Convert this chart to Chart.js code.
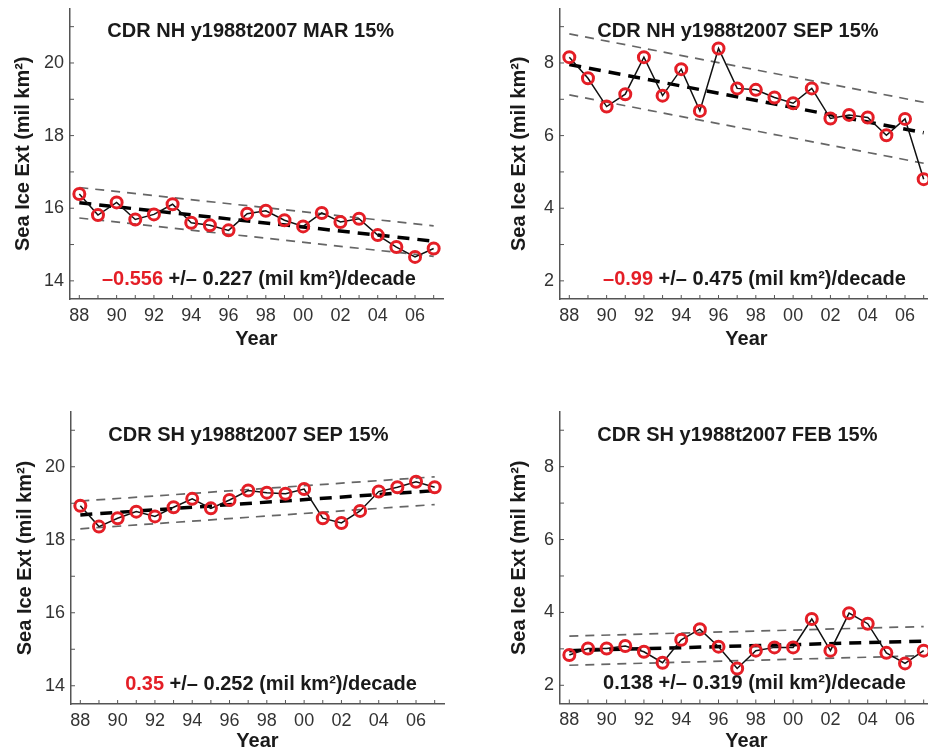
<!DOCTYPE html>
<html>
<head>
<meta charset="utf-8">
<title>Sea ice extent trends 1988-2007</title>
<script src="https://cdn.jsdelivr.net/npm/chart.js@4.4.1/dist/chart.umd.min.js"></script>
<style>
  html, body { margin: 0; padding: 0; background: #fff; overflow: hidden; }
  body { position: relative; width: 928px; height: 751px; }
  canvas { position: absolute; }
</style>
</head>
<body>
<canvas id="nhMar"></canvas>
<canvas id="nhSep"></canvas>
<canvas id="shSep"></canvas>
<canvas id="shFeb"></canvas>
<script>
const years = [1988, 1989, 1990, 1991, 1992, 1993, 1994, 1995, 1996, 1997,
               1998, 1999, 2000, 2001, 2002, 2003, 2004, 2005, 2006, 2007];

// sea ice extent, million km^2
const nhMarch     = [16.39, 15.81, 16.16, 15.69, 15.83, 16.11, 15.60, 15.53, 15.39, 15.85,
                     15.93, 15.67, 15.50, 15.87, 15.62, 15.71, 15.26, 14.93, 14.66, 14.89];
const nhSeptember = [8.16, 7.58, 6.80, 7.14, 8.16, 7.10, 7.83, 6.68, 8.40, 7.30,
                     7.26, 7.05, 6.89, 7.30, 6.47, 6.57, 6.50, 6.01, 6.46, 4.80];
const shSeptember = [18.93, 18.36, 18.59, 18.77, 18.64, 18.89, 19.12, 18.86, 19.09, 19.35,
                     19.29, 19.26, 19.39, 18.59, 18.46, 18.79, 19.32, 19.44, 19.59, 19.44];
const shFebruary  = [2.83, 3.01, 3.01, 3.08, 2.92, 2.62, 3.25, 3.54, 3.06, 2.46,
                     2.95, 3.04, 3.04, 3.82, 2.95, 3.98, 3.69, 2.89, 2.60, 2.95];

const panelTitles = ['CDR NH y1988t2007 MAR 15%', 'CDR NH y1988t2007 SEP 15%',
                     'CDR SH y1988t2007 SEP 15%', 'CDR SH y1988t2007 FEB 15%'];

// linear trend per decade and its uncertainty
const trendSlopes = [-0.556, -0.99, 0.35, 0.138];
const slopeErrors = [0.227, 0.475, 0.252, 0.319];
// trend value in 1988 and half width of the dashed envelope
const trendStart = [16.15, 7.96, 18.68, 2.95];
const bandHalfWidth = [0.42, 0.84, 0.38, 0.40];

const yLimits = [[13.5, 21.5], [1.5, 9.5], [13.5, 21.5], [1.5, 9.5]];
const yTickValues = [
  [14, 15, 16, 17, 18, 19, 20, 21],
  [2, 3, 4, 5, 6, 7, 8, 9],
  [14, 15, 16, 17, 18, 19, 20, 21],
  [2, 3, 4, 5, 6, 7, 8, 9]
];
const series = [nhMarch, nhSeptember, shSeptember, shFebruary];
const canvasIds = ['nhMar', 'nhSep', 'shSep', 'shFeb'];

// canvas placement and plot box inside each canvas
const layouts = [
  { left: 0,   top: 0,   width: 464, height: 351, areaLeft: 70, areaRight: 443, areaTop: 8.5, areaBottom: 299, yTitlePad: 11 },
  { left: 464, top: 0,   width: 480, height: 351, areaLeft: 96, areaRight: 469, areaTop: 8.5, areaBottom: 299, yTitlePad: 43 },
  { left: 0,   top: 400, width: 464, height: 353, areaLeft: 71, areaRight: 444, areaTop: 12,  areaBottom: 304, yTitlePad: 13 },
  { left: 464, top: 400, width: 480, height: 353, areaLeft: 96, areaRight: 469, areaTop: 12,  areaBottom: 303.5, yTitlePad: 43 }
];

const FONT = "'Liberation Sans', Arial, Helvetica, sans-serif";
const RED = 'rgb(228, 30, 38)';
const TEXT = '#1a1a1a';
const AXIS = '#555';

// title and trend text inside the axes, drawn under the data
const panelText = {
  id: 'panelText',
  beforeDatasetsDraw(chart, args, opts) {
    const { ctx, chartArea, scales: { x } } = chart;
    ctx.save();
    ctx.font = 'bold 20px ' + FONT;
    ctx.textBaseline = 'middle';
    ctx.fillStyle = TEXT;
    ctx.textAlign = 'left';
    ctx.fillText(opts.title, x.getPixelForValue(1989.5), chartArea.top + 23);

    const slopeStr = String(opts.slope).replace('-', '\u2013');
    const rest = ' +/\u2013 ' + opts.err + ' (mil km\u00b2)/decade';
    const w1 = ctx.measureText(slopeStr).width;
    const w2 = ctx.measureText(rest).width;
    const right = x.getPixelForValue(2006.05);
    const y = chartArea.bottom - 20;
    ctx.fillStyle = Math.abs(opts.slope) > opts.err ? RED : TEXT;
    ctx.fillText(slopeStr, right - w1 - w2, y);
    ctx.fillStyle = TEXT;
    ctx.fillText(rest, right - w2, y);
    ctx.restore();
  }
};

// short tick marks pointing into the plot
const innerTicks = {
  id: 'innerTicks',
  afterDraw(chart) {
    const { ctx, chartArea, scales: { x, y } } = chart;
    ctx.save();
    ctx.strokeStyle = AXIS;
    ctx.lineWidth = 1;
    ctx.beginPath();
    x.ticks.forEach(t => {
      const px = x.getPixelForValue(t.value);
      ctx.moveTo(px, chartArea.bottom);
      ctx.lineTo(px, chartArea.bottom - 4);
    });
    y.ticks.forEach(t => {
      const py = y.getPixelForValue(t.value);
      ctx.moveTo(chartArea.left, py);
      ctx.lineTo(chartArea.left + 4, py);
    });
    ctx.stroke();
    ctx.restore();
  }
};

function makePanel(i) {
  const L = layouts[i];
  const canvas = document.getElementById(canvasIds[i]);
  canvas.width = L.width;
  canvas.height = L.height;
  canvas.style.left = L.left + 'px';
  canvas.style.top = L.top + 'px';

  const values = series[i];
  const start = trendStart[i];
  const end = start + trendSlopes[i] * (2007 - 1988) / 10;
  const band = bandHalfWidth[i];
  const first = years[0], last = years[years.length - 1];

  const points = years.map((yr, k) => ({ x: yr, y: values[k] }));
  const envelope = off => [{ x: first, y: start + off }, { x: last, y: end + off }];

  return new Chart(canvas, {
    type: 'line',
    data: {
      datasets: [
        {
          data: points, showLine: false,
          pointRadius: 5.5, pointBorderWidth: 3,
          pointBorderColor: RED, pointBackgroundColor: 'rgba(0,0,0,0)'
        },
        { data: points, borderColor: '#111', borderWidth: 1.5, pointRadius: 0 },
        { data: envelope(0), borderColor: '#000', borderWidth: 3.5, borderDash: [12, 8], pointRadius: 0 },
        { data: envelope(band), borderColor: '#666', borderWidth: 1.7, borderDash: [9, 7], pointRadius: 0 },
        { data: envelope(-band), borderColor: '#666', borderWidth: 1.7, borderDash: [9, 7], pointRadius: 0 }
      ]
    },
    options: {
      responsive: false,
      animation: false,
      layout: { padding: { top: L.areaTop, right: L.width - L.areaRight, bottom: 0, left: 0 } },
      plugins: {
        legend: { display: false },
        tooltip: { enabled: false },
        panelText: { title: panelTitles[i], slope: trendSlopes[i], err: slopeErrors[i] }
      },
      scales: {
        x: {
          type: 'linear',
          min: 1987.5,
          max: 2007.5,
          afterFit: s => {
            s.height = L.height - L.areaBottom;
            s.paddingLeft = 0;
            s.paddingRight = 0;
          },
          afterBuildTicks: s => { s.ticks = years.map(v => ({ value: v })); },
          grid: { display: true, drawOnChartArea: false, drawTicks: false },
          border: { color: AXIS, width: 1.5 },
          ticks: {
            autoSkip: false, maxRotation: 0, padding: 6, color: '#333',
            font: { size: 18, family: FONT },
            callback: v => (v % 2 === 0 ? String(v).slice(2) : '')
          },
          title: {
            display: true, text: 'Year', color: TEXT,
            font: { size: 20, weight: 'bold', family: FONT, lineHeight: 1.2 },
            padding: { top: 0, bottom: 0 }
          }
        },
        y: {
          type: 'linear',
          min: yLimits[i][0],
          max: yLimits[i][1],
          afterFit: s => {
            s.width = L.areaLeft;
            s.paddingTop = 0;
            s.paddingBottom = 0;
          },
          afterBuildTicks: s => { s.ticks = yTickValues[i].map(v => ({ value: v })); },
          grid: { display: true, drawOnChartArea: false, drawTicks: false },
          border: { color: AXIS, width: 1.5 },
          ticks: {
            padding: 6, color: '#333',
            font: { size: 18, family: FONT },
            callback: v => (v % 2 === 0 ? String(v) : '')
          },
          title: {
            display: true, text: 'Sea Ice Ext (mil km\u00b2)', color: TEXT,
            font: { size: 20, weight: 'bold', family: FONT, lineHeight: 1.2 },
            padding: { top: L.yTitlePad, bottom: 0 }
          }
        }
      }
    },
    plugins: [panelText, innerTicks]
  });
}

for (let i = 0; i < 4; i++) makePanel(i);
</script>
</body>
</html>
